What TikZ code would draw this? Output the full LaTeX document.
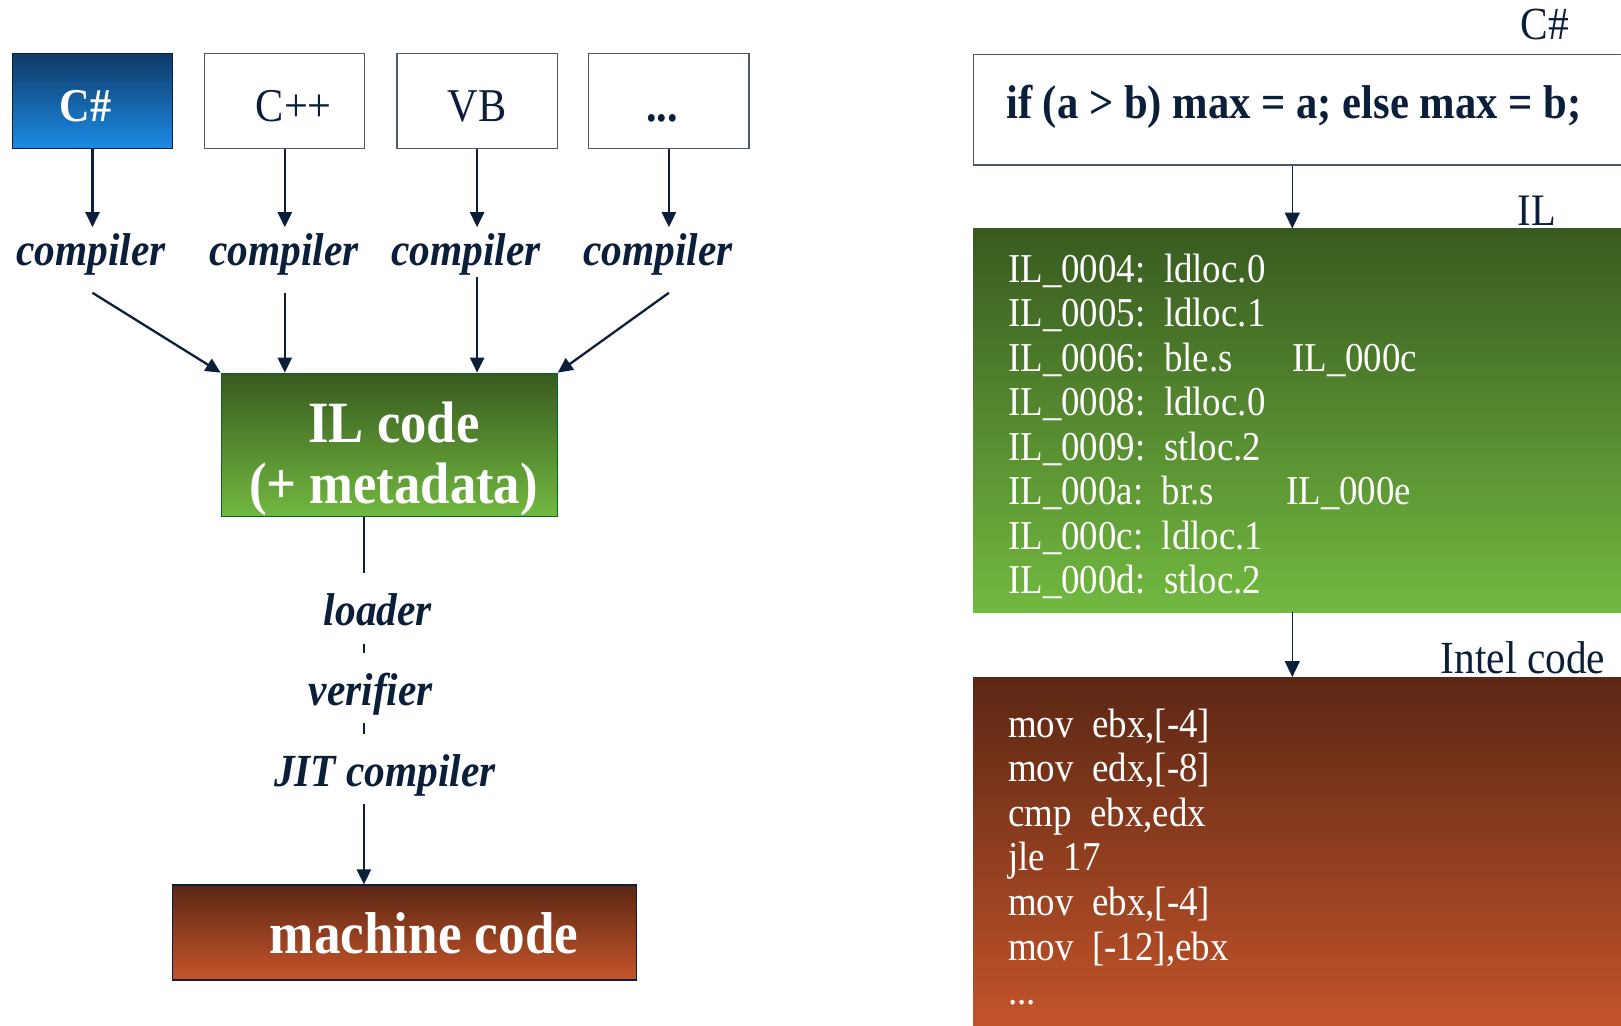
\documentclass[tikz,border=0pt]{standalone}
\usepackage{fontspec}
\setmainfont{Liberation Serif}[FakeStretch=0.9]
\usetikzlibrary{arrows.meta,calc}

\definecolor{ink}{HTML}{0B1F3A}
\definecolor{frame}{HTML}{4F5866}
\definecolor{blueTop}{HTML}{103A66}
\definecolor{blueBot}{HTML}{1C8BE6}
\definecolor{greenTop}{HTML}{385A1F}
\definecolor{greenBot}{HTML}{72B940}
\definecolor{rustTop}{HTML}{5B2714}
\definecolor{rustBot}{HTML}{C6552A}

\begin{document}
\begin{tikzpicture}[x=1pt,y=-1pt,
  conn/.style={draw=ink, line width=2.3pt},
  arr/.style={conn, -{Triangle[length=15pt,width=14pt]}},
  thinarr/.style={draw=ink, line width=1.6pt, -{Triangle[length=16pt,width=15pt]}},
  langbox/.style={draw=frame, line width=1.1pt, fill=white, minimum width=160.2pt,
    minimum height=95.1pt, inner sep=0pt, text=ink,
    font=\fontsize{47}{50}\selectfont, text height=41pt, text depth=0pt},
  stage/.style={text=ink, inner sep=0pt, font=\fontsize{46}{50}\selectfont\bfseries\itshape},
  comp/.style={stage, text height=38.3pt, text depth=26.9pt, anchor=base},
  phase/.style={stage, text height=52pt, text depth=18pt, anchor=base},
  bigtext/.style={text=white, inner sep=0pt, anchor=base,
    font=\fontsize{58.5}{61}\selectfont\bfseries},
  codeline/.style={text=white, inner sep=0pt, anchor=base west,
    font=\fontsize{41}{44}\selectfont},
  tag/.style={text=ink, inner sep=0pt, anchor=base east, font=\fontsize{46}{50}\selectfont},
]
\useasboundingbox (0,0) rectangle (1621,1025);
\clip (0,0) rectangle (1621,1025);

% ---------- left: source languages ----------
\node[langbox, draw=ink, top color=blueTop, bottom color=blueBot, text=white,
      font=\fontsize{47}{50}\selectfont\bfseries] (lang1) at (92.5,101.35) {C\#\kern14pt};
\node[langbox] (lang2) at (284.8,101.35) {\kern18pt C++};
\node[langbox] (lang3) at (477.1,101.35) {VB};
\node[langbox] (lang4) at (668.9,101.35) {\textbf{.{}.{}.}\kern14pt};

\node[comp] (comp1) at (91,265.7) {compiler};
\node[comp] (comp2) at (284,265.7) {compiler};
\node[comp] (comp3) at (466,265.7) {compiler};
\node[comp] (comp4) at (658,265.7) {compiler};

\foreach \k in {1,2,3,4}
  \draw[arr] (lang\k.south) -- (lang\k.south |- comp\k.north);

% ---------- IL code box ----------
\node[draw=ink!70!green, line width=1.1pt, top color=greenTop, bottom color=greenBot,
      minimum width=336pt, minimum height=143.7pt, inner sep=0pt] (il) at (389.2,445.05) {};
\node[bigtext] (ilt1) at (394,442.5) {IL code};
\node[bigtext] (ilt2) at (393.4,503.5) {(+ metadata)};

\draw[arr] (lang1.south |- comp1.south) -- (il.north west);
\draw[arr] (lang2.south |- comp2.south) -- (lang2.south |- il.north);
\draw[arr] ($(lang3.south |- comp3.south)+(0,-15.6)$) -- (lang3.south |- il.north);
\draw[arr] (lang4.south |- comp4.south) -- (il.north east);

% ---------- loader / verifier / JIT ----------
\coordinate (spine) at (363.9,0);
\node[phase] (loader) at (378,625.5) {loader};
\node[phase] (verifier) at (370.8,705) {verifier};
\node[phase] (jit) at (385,786) {JIT compiler};

\node[draw=ink, line width=1.1pt, top color=rustTop, bottom color=rustBot,
      minimum width=464.2pt, minimum height=95pt, inner sep=0pt] (mc) at (404.7,932.5) {};
\node[bigtext, font=\fontsize{59}{61}\selectfont\bfseries] (mct) at (424,953) {machine code};

\draw[conn] (il.south -| spine) -- (loader.north -| spine);
\draw[conn] (loader.south -| spine) -- (verifier.north -| spine);
\draw[conn] (verifier.south -| spine) -- (jit.north -| spine);
\draw[arr] (jit.south -| spine) -- (mc.north -| spine);

% ---------- right: an example ----------
\coordinate (axis) at (1292.3,0);

\node[tag] (tagcs) at (1569,39.3) {C\#};
\node[draw=frame, line width=1.1pt, fill=white, anchor=north west,
      minimum width=680pt, minimum height=110.6pt, inner sep=0pt] (csbox) at (972.8,53.8) {};
\node[text=ink, inner sep=0pt, anchor=base west, font=\fontsize{47.4}{50}\selectfont\bfseries]
  (cscode) at (1006,118.5) {if (a > b) max = a; else max = b;};

\node[tag, font=\fontsize{45}{50}\selectfont] (tagil) at (1556,225.4) {IL};
\node[top color=greenTop, bottom color=greenBot, anchor=north west,
      minimum width=680pt, minimum height=383.5pt, inner sep=0pt] (ilcode) at (972.8,228.5) {};
\node[codeline] (il0) at (1008,282.0) {IL\_0004:\ \ ldloc.0};
\node[codeline] (il1) at (1008,326.5) {IL\_0005:\ \ ldloc.1};
\node[codeline] (il2) at (1008,371.0) {\makebox[284pt][l]{IL\_0006:\ \ ble.s}IL\_000c};
\node[codeline] (il3) at (1008,415.5) {IL\_0008:\ \ ldloc.0};
\node[codeline] (il4) at (1008,460.0) {IL\_0009:\ \ stloc.2};
\node[codeline] (il5) at (1008,504.5) {\makebox[278pt][l]{IL\_000a:\ \ br.s}IL\_000e};
\node[codeline] (il6) at (1008,549.0) {IL\_000c:\ \ ldloc.1};
\node[codeline] (il7) at (1008,593.5) {IL\_000d:\ \ stloc.2};

\node[tag] (tagasm) at (1605.5,673) {Intel code};
\node[top color=rustTop, bottom color=rustBot, anchor=north west,
      minimum width=680pt, minimum height=360pt, inner sep=0pt] (asmbox) at (972.8,677) {};
\node[codeline] (as0) at (1008,737.0) {mov\ \ ebx,[-4]};
\node[codeline] (as1) at (1008,781.6) {mov\ \ edx,[-8]};
\node[codeline] (as2) at (1008,826.2) {cmp\ \ ebx,edx};
\node[codeline] (as3) at (1008,870.8) {jle\ \ 17};
\node[codeline] (as4) at (1008,915.4) {mov\ \ ebx,[-4]};
\node[codeline] (as5) at (1008,960.0) {mov\ \ [-12],ebx};
\node[codeline] (as6) at (1008,1004.6) {.{}.{}.};

\draw[thinarr] (csbox.south -| axis) -- (ilcode.north -| axis);
\draw[thinarr] (ilcode.south -| axis) -- (asmbox.north -| axis);
\end{tikzpicture}
\end{document}
